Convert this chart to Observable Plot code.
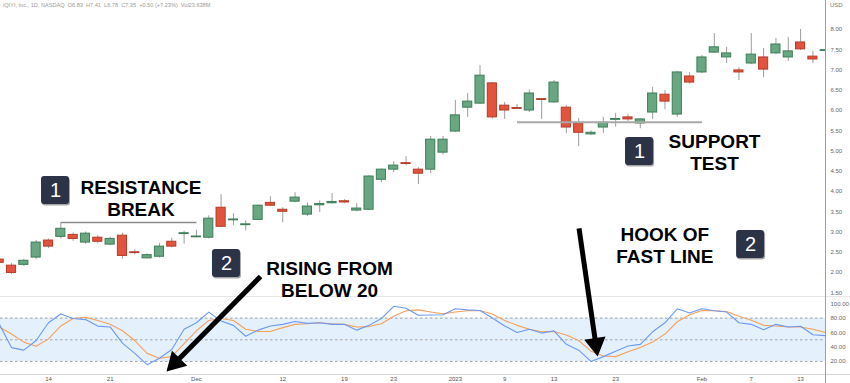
<!DOCTYPE html>
<html>
<head>
<meta charset="utf-8">
<script src="https://cdn.jsdelivr.net/npm/d3@7"></script>
<script src="https://cdn.jsdelivr.net/npm/@observablehq/plot@0.6"></script>
<style>
html,body{margin:0;padding:0;background:#fff;}
#wrap{position:relative;width:850px;height:383px;overflow:hidden;background:#fff;font-family:Arial,"Liberation Sans",sans-serif;}
#price{position:absolute;left:0;top:0;}
#osc{position:absolute;left:0;top:297px;}
#hdr{position:absolute;left:3px;top:2px;font-size:5.6px;color:#9a9a9a;white-space:pre;}
#usd{position:absolute;left:830px;top:2px;font-size:6px;color:#777;}
.sep{position:absolute;left:0;width:850px;height:1px;background:#e6e6e6;}
#vline{position:absolute;left:825px;top:0;width:1px;height:383px;background:#a0a0a0;}
g[aria-label="box-shadow"]{filter:blur(1.4px);}
</style>
</head>
<body>
<div id="wrap">
  <div class="sep" style="top:296px"></div>
  <div class="sep" style="top:374px;background:#d4d4d4"></div>
  <div id="price"></div>
  <div id="osc"></div>
  <div id="vline"></div>
  <div id="hdr">iQIYI, Inc., 1D, NASDAQ  O6.83  H7.41  L6.78  C7.35  +0.50 (+7.23%)  Vol23.638M</div>
  <div id="usd">USD</div>
</div>
<script>
// ---- Data ----
const dates = [
  "2022-11-08","2022-11-09","2022-11-10","2022-11-11","2022-11-14","2022-11-15","2022-11-16","2022-11-17","2022-11-18",
  "2022-11-21","2022-11-22","2022-11-23","2022-11-25","2022-11-28","2022-11-29","2022-11-30",
  "2022-12-01","2022-12-02","2022-12-05","2022-12-06","2022-12-07","2022-12-08","2022-12-09","2022-12-12","2022-12-13",
  "2022-12-14","2022-12-15","2022-12-16","2022-12-19","2022-12-20","2022-12-21","2022-12-22","2022-12-23","2022-12-27",
  "2022-12-28","2022-12-29","2022-12-30",
  "2023-01-03","2023-01-04","2023-01-05","2023-01-06","2023-01-09","2023-01-10","2023-01-11","2023-01-12","2023-01-13",
  "2023-01-17","2023-01-18","2023-01-19","2023-01-20","2023-01-23","2023-01-24","2023-01-25","2023-01-26","2023-01-27",
  "2023-01-30","2023-01-31",
  "2023-02-01","2023-02-02","2023-02-03","2023-02-06","2023-02-07","2023-02-08","2023-02-09","2023-02-10","2023-02-13",
  "2023-02-14","2023-02-15"
];
const open  = [2.32,2.17,2.19,2.37,2.79,2.88,2.93,2.74,2.86,2.69,2.91,2.50,2.35,2.39,2.76,2.95,2.87,2.86,3.60,3.29,3.17,3.30,3.72,3.55,3.75,3.43,3.66,3.71,3.76,3.53,3.55,4.29,4.54,4.70,4.54,4.54,4.96,5.48,6.07,6.17,6.67,6.12,6.06,6.00,6.28,6.20,6.07,5.68,5.41,5.58,5.77,5.83,5.68,5.95,6.39,5.90,6.84,6.94,7.43,7.31,6.99,7.16,7.31,7.41,7.31,7.68,7.33,7.47];
const high  = [2.36,2.22,2.33,2.79,2.83,3.23,2.98,3.00,2.91,2.87,2.97,2.56,2.46,2.72,2.85,3.02,3.04,3.40,3.92,3.45,3.28,3.67,3.87,3.60,3.97,3.72,3.77,3.95,3.80,3.70,4.39,4.56,4.74,4.86,4.59,5.36,5.36,6.25,6.42,7.11,6.69,6.20,6.15,6.51,6.30,6.74,6.12,5.80,5.50,5.83,5.93,5.90,5.80,6.57,6.49,6.96,6.94,7.36,7.90,7.56,7.06,7.90,7.53,7.78,7.80,8.00,7.46,7.50];
const low   = [2.20,1.95,2.15,2.32,2.59,2.83,2.77,2.70,2.71,2.66,2.33,2.44,2.34,2.36,2.61,2.70,2.86,2.83,3.11,3.16,3.03,3.28,3.63,3.23,3.72,3.38,3.48,3.69,3.70,3.50,3.53,4.22,4.47,4.64,4.17,4.44,4.90,5.46,5.83,6.15,5.79,5.78,6.03,5.95,5.78,6.17,5.43,5.11,5.38,5.43,5.59,5.73,5.55,5.78,6.02,5.83,6.65,6.91,7.41,7.16,6.74,7.14,6.81,7.38,7.21,7.48,7.16,7.45];
const close = [2.24,1.99,2.29,2.74,2.64,3.08,2.83,2.96,2.76,2.83,2.41,2.48,2.43,2.64,2.64,2.97,2.89,3.33,3.13,3.31,3.19,3.65,3.65,3.50,3.85,3.63,3.69,3.74,3.73,3.58,4.37,4.54,4.64,4.68,4.44,5.28,5.28,5.88,6.22,6.86,5.83,6.00,6.04,6.42,6.26,6.69,5.58,5.45,5.45,5.70,5.79,5.78,5.78,6.42,6.22,6.94,6.69,7.31,7.56,7.41,6.94,7.38,7.01,7.63,7.46,7.51,7.26,7.49];
// Stochastic oscillator: fast %K (blue) and slow %D (orange)
const stochK = [72,39.2,35.7,49,73.6,85.7,79.4,78,69,67.8,45.5,31.2,15.5,24.5,36.6,64.7,73.6,88.4,75.9,70,54.9,63.4,69.2,71.4,75.4,72.7,73.6,71.4,71.4,63.4,70,79.4,96.4,93.7,83.9,84.4,84.8,92.9,91.5,90.6,80.3,69.2,60.2,64.7,59.3,62.5,43.7,35.7,20,26.7,34.3,41.5,43.7,61.1,73.6,92.9,87,92.9,90.2,88.4,73.6,71.4,63.8,71.4,67.8,68.7,57.1,55.8];
const stochD = [67.8,58,46.8,41,51.3,69.2,79.4,81.2,76.8,71.4,62.5,49,31.2,24.5,26.7,44.6,62.5,76.8,79.4,76.8,64.7,61.6,61.6,66.9,71.4,72.3,73.6,72.3,71.4,67.8,68.3,72.3,82.6,90.2,91.5,88.4,86,88.4,90.2,90.6,85.7,76.8,70,64.7,61.1,61.6,56.7,49,34.3,27.6,26.7,33.4,39.2,46.8,58,75,84.8,90.6,90.2,89.3,82.6,77.2,70,69.2,67.8,67.8,64.7,60.2];
// Axis ticks
const tickDates  = ["2022-11-14","2022-11-21","2022-12-01","2022-12-12","2022-12-19","2022-12-23","2023-01-03","2023-01-09","2023-01-13","2023-01-23","2023-02-01","2023-02-07","2023-02-13"];
const tickLabels = ["14","21","Dec","12","19","23","2023","9","13","23","Feb","7","13"];
const priceTicks = [1.5,2,2.5,3,3.5,4,4.5,5,5.5,6,6.5,7,7.5,8];
const oscTicks   = [20,40,60,80,100];
const oscLevels  = [80,50,20];
const oscBand    = [{lo: 20, hi: 80}];
// Annotations (x in trading-day position, y in chart units)
const levels = [
  {from: "2022-11-15", to: "2022-12-01", price: 3.235, color: "#8a8a8a", w: 1.5},
  {from: "2023-01-10", to: "2023-02-01", price: 5.71, color: "#a8a8a8", w: 2}
];
const boxes = [
  {x1: 3.434, x2: 5.705, y1: 3.679, y2: 4.370, label: "1"},
  {x1: 17.30, x2: 19.57, y1: 1.877, y2: 2.568, label: "2"},
  {x1: 50.80, x2: 53.08, y1: 4.642, y2: 5.333, label: "1"},
  {x1: 59.81, x2: 62.08, y1: 2.346, y2: 3.037, label: "2"}
];
const notes = [
  {x: 11.50, y: 3.407, text: "RESISTANCE\nBREAK"},
  {x: 26.80, y: 1.395, text: "RISING FROM\nBELOW 20"},
  {x: 58.02, y: 4.543, text: "SUPPORT\nTEST"},
  {x: 53.99, y: 2.240, text: "HOOK OF\nFAST LINE"}
];
const arrows = [
  {x1: 21.20, y1: 137.7, x2: 14.28, y2: 18.3, angle: -135.3},
  {x1: 47.03, y1: 204.2, x2: 48.39, y2: 43.9, angle: 171.5}
];

// ---- Build ----
const pos = d => dates.indexOf(d);
const candles = dates.map((d, i) => ({i, o: open[i], h: high[i], l: low[i], c: close[i], up: close[i] >= open[i]}));
const osc = dates.map((d, i) => ({i, k: stochK[i], d: stochD[i]}));
const tickPos = tickDates.map(pos);
const xDomain = [0.108, 67.02];
const GREEN = "#69a682", GREEN_D = "#3e7d58", RED = "#e3543e", RED_D = "#b63b28";
const FONT = "Arial, 'Liberation Sans', sans-serif";
const hw = 0.37;

const price = Plot.plot({
  width: 850, height: 297,
  marginLeft: 0, marginRight: 25, marginTop: 29, marginBottom: 4.7,
  style: {background: "transparent", overflow: "visible", fontFamily: FONT},
  x: {domain: xDomain, axis: null},
  y: {domain: [1.5, 8], axis: null},
  marks: [
    Plot.axisY({anchor: "right", ticks: priceTicks, tickFormat: d3.format(".2f"), tickSize: 0, tickPadding: 5, fontSize: 6, color: "#666", label: null}),
    Plot.ruleX(candles, {x: "i", y1: "l", y2: "h", stroke: "#9c9c9c", strokeWidth: 1, clip: true}),
    Plot.rect(candles.filter(d => d.up), {x1: d => d.i - hw, x2: d => d.i + hw, y1: "o", y2: "c", fill: GREEN, stroke: GREEN_D, strokeWidth: 1, clip: true}),
    Plot.rect(candles.filter(d => !d.up), {x1: d => d.i - hw, x2: d => d.i + hw, y1: "o", y2: "c", fill: RED, stroke: RED_D, strokeWidth: 1, clip: true}),
    Plot.link(levels, {x1: d => pos(d.from), x2: d => pos(d.to), y1: "price", y2: "price", stroke: d => d.color, strokeWidth: d => d.w}),
    Plot.rect(boxes, {x1: "x1", x2: "x2", y1: "y1", y2: "y2", fill: "#000", fillOpacity: 0.35, dx: 1, dy: 1.5, rx: 3, ariaLabel: "box-shadow"}),
    Plot.rect(boxes, {x1: "x1", x2: "x2", y1: "y1", y2: "y2", fill: "#2c3346", rx: 3}),
    Plot.text(boxes, {x: d => (d.x1 + d.x2) / 2, y: d => (d.y1 + d.y2) / 2, text: "label", fill: "white", fontSize: 20, fontFamily: FONT}),
    Plot.text(notes, {x: "x", y: "y", text: "text", lineAnchor: "bottom", lineHeight: 1.15, fontSize: 19, fontWeight: "bold", fill: "#000", fontFamily: FONT})
  ]
});
document.getElementById("price").append(price);

const oscChart = Plot.plot({
  width: 850, height: 86,
  marginLeft: 0, marginRight: 25, marginTop: 6.2, marginBottom: 9.04,
  style: {background: "transparent", overflow: "visible", fontFamily: FONT},
  x: {domain: xDomain, axis: null},
  y: {domain: [2, 100], axis: null},
  marks: [
    Plot.rect(oscBand, {y1: "lo", y2: "hi", fill: "#e4f1fd"}),
    Plot.ruleY(oscLevels, {stroke: "#a4a4a4", strokeDasharray: "2.5,2.5", strokeWidth: 1}),
    Plot.axisY({anchor: "right", ticks: oscTicks, tickFormat: d3.format(".2f"), tickSize: 0, tickPadding: 5, fontSize: 6, color: "#666", label: null}),
    Plot.axisX({ticks: tickPos, tickFormat: v => tickLabels[tickPos.indexOf(v)], tickSize: 0, tickPadding: 2.5, fontSize: 6, color: "#555", label: null}),
    Plot.line(osc, {x: "i", y: "d", stroke: "#f5a05c", strokeWidth: 1.1, clip: true}),
    Plot.line(osc, {x: "i", y: "k", stroke: "#6d98f2", strokeWidth: 1.1, clip: true}),
    Plot.link(arrows, {x1: "x1", y1: "y1", x2: "x2", y2: "y2", stroke: "#000", strokeWidth: 5}),
    Plot.dot(arrows, {x: "x2", y: "y2", symbol: "triangle", r: 8, fill: "#000", stroke: "none", rotate: "angle"})
  ]
});
document.getElementById("osc").append(oscChart);
</script>
</body>
</html>
